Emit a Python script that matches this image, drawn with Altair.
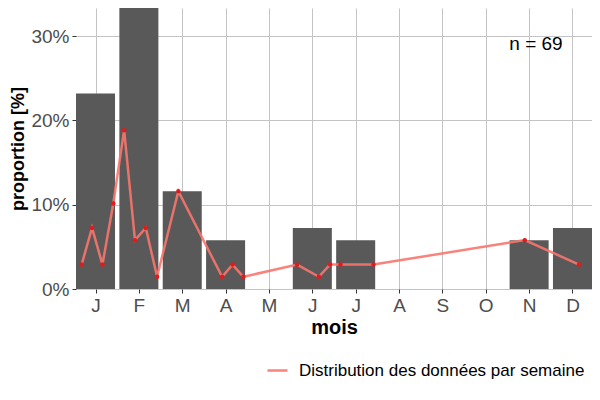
import altair as alt
import pandas as pd

# monthly counts (bars) and weekly counts (line), n = 69
n_total = 69
month_num = [1, 2, 3, 4, 5, 6, 7, 8, 9, 10, 11, 12]
month_lab = ["J", "F", "M", "A", "M", "J", "J", "A", "S", "O", "N", "D"]
month_count = [16, 23, 8, 4, 0, 5, 4, 0, 0, 0, 4, 5]

week_pos = [0.68, 0.92, 1.16, 1.41, 1.66, 1.91, 2.16, 2.42, 2.91, 3.92, 4.16,
            4.41, 5.65, 6.15, 6.41, 6.65, 7.41, 10.90, 12.15]
week_count = [2, 5, 2, 7, 13, 4, 5, 1, 8, 1, 2, 1, 2, 1, 2, 2, 2, 4, 2]

bars_df = pd.DataFrame({"mois": month_num, "count": month_count})
weeks_df = pd.DataFrame({"pos": week_pos, "count": week_count,
                         "serie": "Distribution des données par semaine"})

label_expr = "[" + ",".join(f"'{m}'" for m in month_lab) + "][datum.value - 1]"

x_scale = alt.Scale(domain=[0.55, 12.45], nice=False, zero=False)
y_scale = alt.Scale(domain=[0, 23 / 69], nice=False)

bars = (
    alt.Chart(bars_df)
    .transform_calculate(
        x0="datum.mois - 0.45",
        x1="datum.mois + 0.45",
        prop=f"datum.count / {n_total}",
    )
    .mark_bar(color="#595959")
    .encode(
        x=alt.X("x0:Q", scale=x_scale, title="mois",
                axis=alt.Axis(values=month_num, labelExpr=label_expr)),
        x2="x1:Q",
        y=alt.Y("prop:Q", scale=y_scale, title="proportion [%]",
                axis=alt.Axis(values=[0, 0.1, 0.2, 0.3], format=".0%",
                              titleFontSize=18, titlePadding=3)),
        y2=alt.datum(0),
    )
)

line = (
    alt.Chart(weeks_df)
    .transform_calculate(prop=f"datum.count / {n_total}")
    .mark_line(strokeWidth=2.5, opacity=0.9)
    .encode(
        x=alt.X("pos:Q", scale=x_scale),
        y=alt.Y("prop:Q", scale=y_scale),
        color=alt.Color("serie:N", title=None,
                        scale=alt.Scale(range=["#F8766D"]),
                        legend=alt.Legend(orient="none", legendX=190, legendY=351,
                                          symbolType="stroke", symbolSize=400,
                                          symbolStrokeWidth=2.5, labelFontSize=17,
                                          labelColor="#000000", labelOffset=10,
                                          labelLimit=0)),
    )
)

points = (
    alt.Chart(weeks_df)
    .transform_calculate(prop=f"datum.count / {n_total}")
    .mark_circle(color="#E31A1C", size=20, opacity=1)
    .encode(
        x=alt.X("pos:Q", scale=x_scale),
        y=alt.Y("prop:Q", scale=y_scale),
    )
)

note = (
    alt.Chart(pd.DataFrame({"t": [f"n = {n_total}"]}))
    .mark_text(fontSize=19, color="#000000", font="Liberation Sans")
    .encode(x=alt.value(460), y=alt.value(36), text="t:N")
)

chart = (
    alt.layer(bars, line, points, note)
    .properties(
        width=516, height=281,
        autosize=alt.AutoSizeParams(type="none"),
        padding={"left": 68, "top": 0, "right": 0, "bottom": 90},
    )
    .configure(font="Liberation Sans")
    .configure_view(stroke=None)
    .configure_axis(
        domain=False,
        grid=True,
        gridColor="#c4c4c4",
        gridWidth=1,
        tickColor="#333333",
        tickSize=4,
        labelColor="#4d4d4d",
        labelFontSize=19,
        labelPadding=3,
        titleFontSize=20,
        titleFontWeight="bold",
        titleColor="#000000",
    )
    .configure_axisX(titlePadding=2)
)

chart.save("out.html", embed_options={"renderer": "svg", "actions": False})
